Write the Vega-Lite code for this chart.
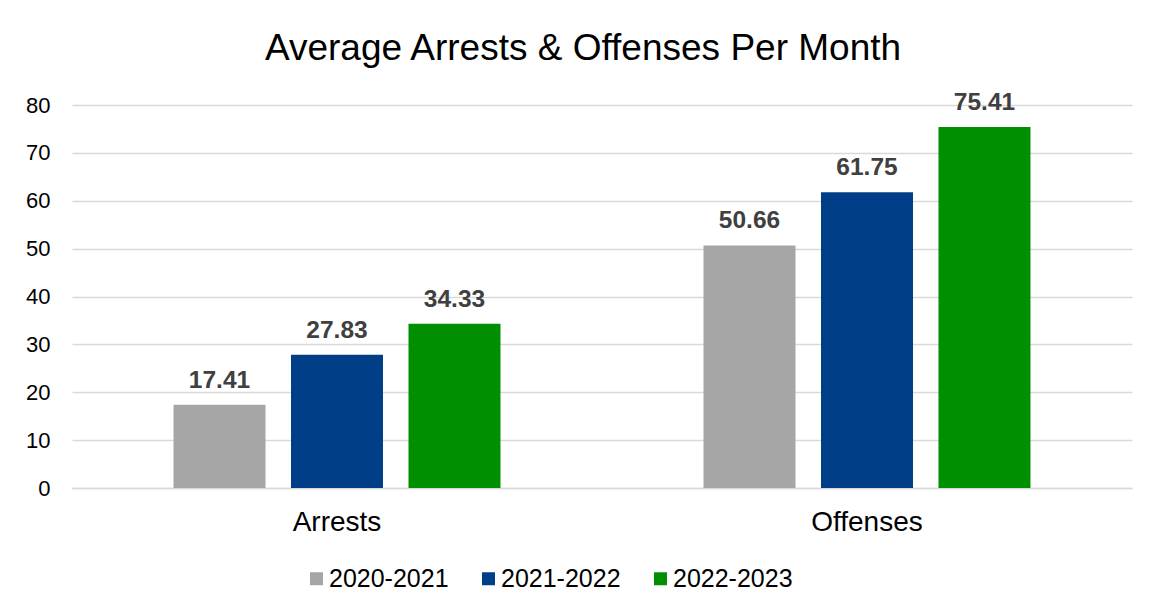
{
  "$schema": "https://vega.github.io/schema/vega-lite/v6.json",
  "autosize": {"type": "none"},
  "width": 1060,
  "height": 383,
  "padding": {"left": 72, "top": 105, "right": 18, "bottom": 126},
  "background": "white",
  "config": {
    "font": "Liberation Sans",
    "view": {"stroke": null}
  },
  "title": {
    "text": "Average Arrests & Offenses Per Month",
    "fontSize": 37,
    "font": "Liberation Sans",
    "fontWeight": "normal",
    "color": "#000000",
    "anchor": "middle",
    "dx": -19,
    "offset": 22
  },
  "data": {
    "values": [
      {"category": "Arrests", "year": "2020-2021", "value": 17.41},
      {"category": "Arrests", "year": "2021-2022", "value": 27.83},
      {"category": "Arrests", "year": "2022-2023", "value": 34.33},
      {"category": "Offenses", "year": "2020-2021", "value": 50.66},
      {"category": "Offenses", "year": "2021-2022", "value": 61.75},
      {"category": "Offenses", "year": "2022-2023", "value": 75.41}
    ]
  },
  "encoding": {
    "x": {
      "field": "category",
      "type": "nominal",
      "scale": {"paddingInner": 0, "paddingOuter": 0},
      "axis": {
        "title": null,
        "labelAngle": 0,
        "labelFontSize": 28,
        "labelColor": "#000000",
        "labelPadding": 20,
        "domainColor": "#d9d9d9",
        "domainWidth": 1.5,
        "ticks": false
      }
    },
    "xOffset": {
      "field": "year",
      "type": "nominal",
      "scale": {"paddingInner": 0.217, "paddingOuter": 0.864}
    },
    "y": {
      "field": "value",
      "type": "quantitative",
      "scale": {"domain": [0, 80], "nice": false},
      "axis": {
        "title": null,
        "values": [0, 10, 20, 30, 40, 50, 60, 70, 80],
        "labelFontSize": 22,
        "labelColor": "#000000",
        "labelPadding": 22,
        "gridColor": "#d9d9d9",
        "gridWidth": 1.5,
        "domain": false,
        "ticks": false
      }
    }
  },
  "layer": [
    {
      "mark": {"type": "bar"},
      "encoding": {
        "color": {
          "field": "year",
          "type": "nominal",
          "scale": {
            "domain": ["2020-2021", "2021-2022", "2022-2023"],
            "range": ["#a6a6a6", "#003f87", "#008f00"]
          },
          "legend": {
            "title": null,
            "orient": "none",
            "direction": "horizontal",
            "legendX": 232,
            "legendY": 461,
            "symbolType": "square",
            "symbolSize": 169,
            "symbolStrokeWidth": 0,
            "labelFontSize": 25,
            "labelColor": "#000000",
            "labelOffset": 0,
            "columnPadding": 27
          }
        }
      }
    },
    {
      "mark": {
        "type": "text",
        "baseline": "alphabetic",
        "dy": -17,
        "fontSize": 24.5,
        "fontWeight": "bold",
        "color": "#404040"
      },
      "encoding": {
        "text": {"field": "value", "type": "quantitative", "format": ".2f"}
      }
    }
  ]
}
